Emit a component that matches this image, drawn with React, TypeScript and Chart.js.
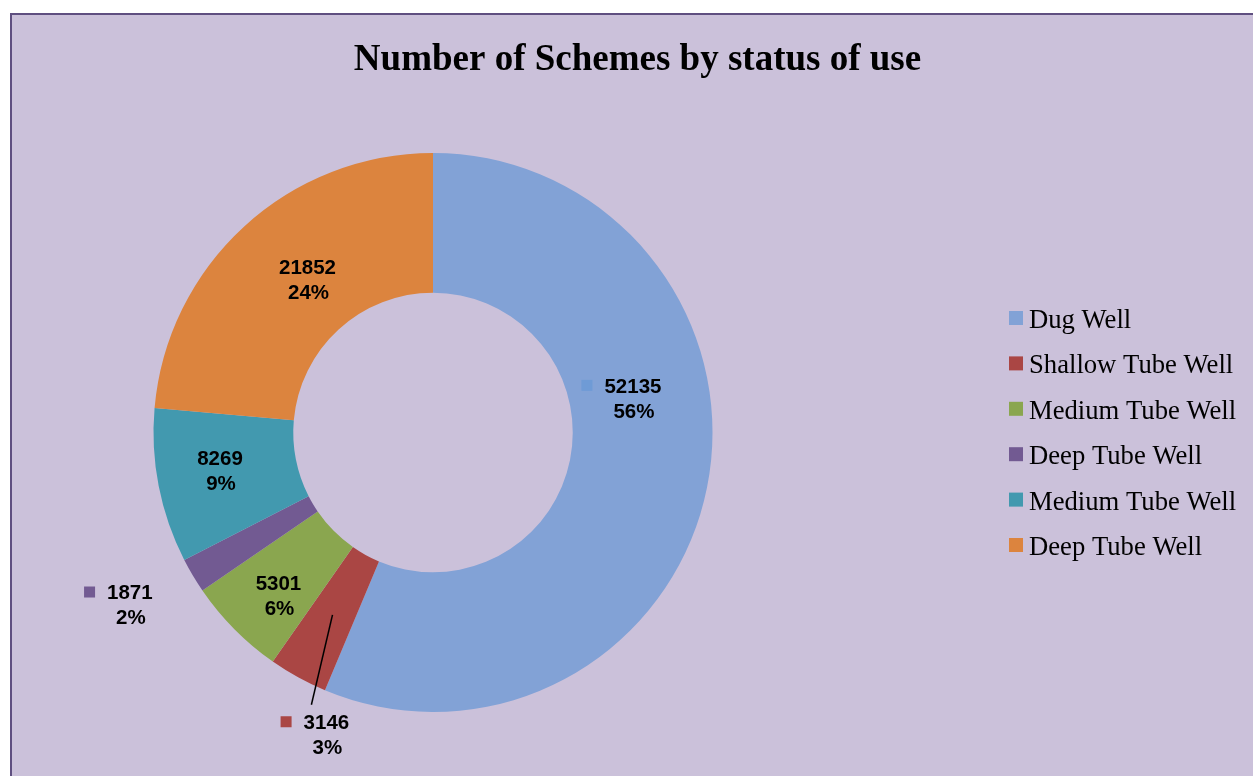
import React, { useEffect, useRef } from 'react';
import { Chart, registerables } from 'chart.js';

Chart.register(...registerables);

// ---- data ----
const categories = [
  'Dug Well',
  'Shallow Tube Well',
  'Medium Tube Well',
  'Deep Tube Well',
  'Medium Tube Well',
  'Deep Tube Well',
];
const values = [52135, 3146, 5301, 1871, 8269, 21852];
const chartTitle = 'Number of Schemes by status of use';

// ---- styling ----
const colors = ['#82A2D6', '#AA4644', '#8AA64F', '#725A92', '#4299AF', '#DC843E'];
const markerColors = ['#6F9BD6', '#AA4644', '#8AA64F', '#725A92', '#4299AF', '#DC843E'];
const bgColor = '#CBC1DA';
const frameColor = '#5F4F80';
// label placement: angle offset from slice mid-angle (deg), radius as factor of outer radius
const labelAngleOffset = [-21.2, -9.4, -1.7, 1.2, 1.0, 3.2];
const labelRadiusFactor = [0.726, 1.145, 0.802, 1.247, 0.774, 0.709];
const labelMarker = [true, true, false, true, false, false];
const leaderLine = [false, true, false, false, false, false];

const CANVAS_W = 1251;
const CANVAS_H = 761;

const overlayPlugin = {
  id: 'overlay',
  afterDatasetsDraw(chart: any) {
    const ctx = chart.ctx as CanvasRenderingContext2D;
    const meta = chart.getDatasetMeta(0);
    const data = chart.data.datasets[0].data as number[];
    const total = data.reduce((a, b) => a + b, 0);
    ctx.save();
    meta.data.forEach((arc: any, i: number) => {
      const p = arc.getProps(['x', 'y', 'startAngle', 'endAngle', 'outerRadius'], true);
      const mid = (p.startAngle + p.endAngle) / 2;
      const ang = mid + (labelAngleOffset[i] * Math.PI) / 180;
      const r = p.outerRadius * labelRadiusFactor[i];
      const cx = p.x + Math.cos(ang) * r;
      const cy = p.y + Math.sin(ang) * r + 1.5;
      const l1 = String(data[i]);
      const l2 = Math.round((data[i] / total) * 100) + '%';
      if (leaderLine[i]) {
        const sr = p.outerRadius * 0.745;
        const sx = p.x + Math.cos(mid) * sr;
        const sy = p.y + Math.sin(mid) * sr;
        ctx.strokeStyle = '#000';
        ctx.lineWidth = 1.5;
        ctx.beginPath();
        ctx.moveTo(sx, sy);
        ctx.lineTo(cx - 15, cy - 31);
        ctx.stroke();
      }
      ctx.font = 'bold 20.5px "Liberation Sans", Arial, sans-serif';
      ctx.fillStyle = '#000';
      ctx.textAlign = 'center';
      ctx.textBaseline = 'middle';
      ctx.fillText(l1, cx, cy - 12.5);
      ctx.fillText(l2, cx + 1, cy + 12.5);
      if (labelMarker[i]) {
        const w = ctx.measureText(l1).width;
        const left = cx - w / 2;
        ctx.fillStyle = markerColors[i];
        ctx.fillRect(left - 12 - 11, cy - 12.5 - 7, 11, 11);
      }
    });

    // title
    ctx.fillStyle = '#000';
    ctx.font = 'bold 37px "Liberation Serif", "Times New Roman", serif';
    ctx.textAlign = 'center';
    ctx.textBaseline = 'middle';
    ctx.fillText(chartTitle, chart.width / 2, 45);

    // legend
    const labels = chart.data.labels as string[];
    ctx.font = '26.67px "Liberation Serif", "Times New Roman", serif';
    ctx.textAlign = 'left';
    labels.forEach((lab, i) => {
      const y = 303 + i * 45.4;
      ctx.fillStyle = colors[i];
      ctx.fillRect(997, y - 7, 14, 14);
      ctx.fillStyle = '#000';
      ctx.fillText(lab, 1017, y + 3);
    });
    ctx.restore();
  },
};

export default function App() {
  const ref = useRef<HTMLCanvasElement | null>(null);
  useEffect(() => {
    if (!ref.current) return;
    const chart = new Chart(ref.current, {
      type: 'doughnut',
      data: {
        labels: categories,
        datasets: [
          {
            data: values,
            backgroundColor: colors,
            borderWidth: 0,
          },
        ],
      },
      options: {
        responsive: false,
        animation: false,
        events: [],
        cutout: '50%',
        layout: {
          padding: { left: 141.5, top: 138, right: 550.5, bottom: 64 },
        },
        plugins: {
          legend: { display: false },
          title: { display: false },
          tooltip: { enabled: false },
        },
      },
      plugins: [overlayPlugin],
    });
    return () => chart.destroy();
  }, []);

  return (
    <div
      style={{
        position: 'fixed',
        left: 10,
        top: 13,
        width: 1243,
        height: 763,
        borderTop: `2px solid ${frameColor}`,
        borderLeft: `2px solid ${frameColor}`,
        background: bgColor,
        overflow: 'hidden',
      }}
    >
      <canvas
        ref={ref}
        width={CANVAS_W}
        height={CANVAS_H}
        style={{ position: 'absolute', left: 0, top: 0, width: CANVAS_W, height: CANVAS_H }}
      />
    </div>
  );
}
